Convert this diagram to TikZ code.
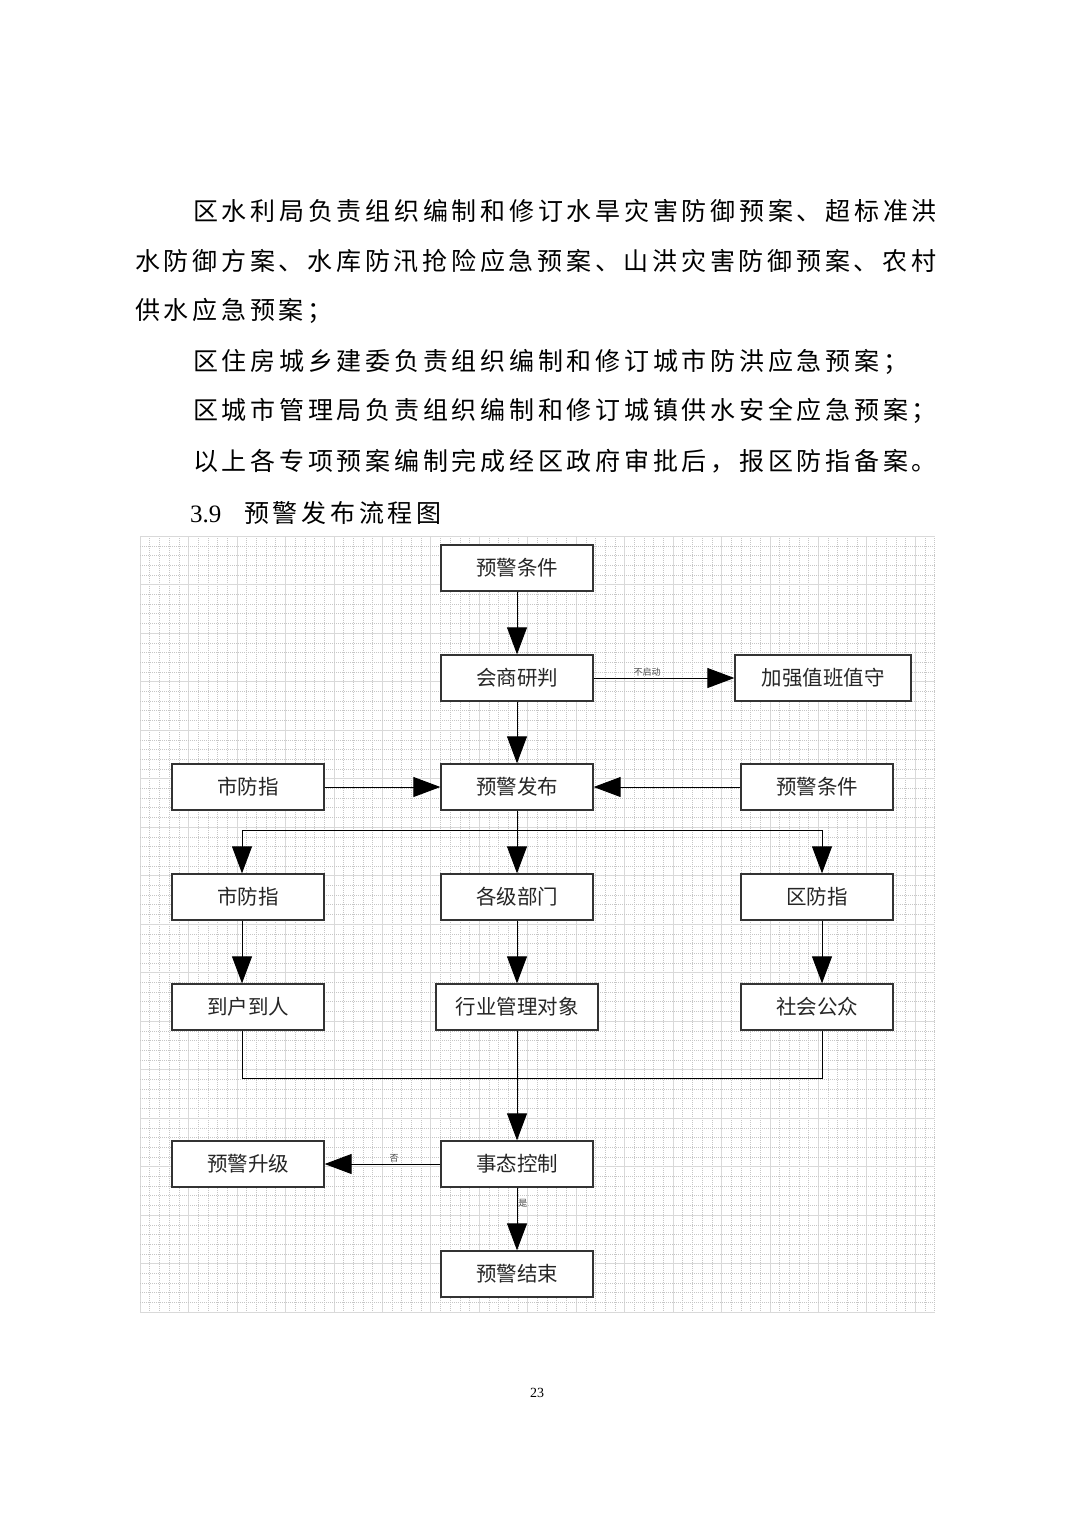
\documentclass[tikz,border=0pt]{standalone}
\usepackage{fontspec}
\setmainfont{Liberation Serif}
\newfontfamily\cjk{Noto Sans CJK SC}
\newfontfamily\cjkbody[LetterSpace=15]{Noto Sans CJK SC}
\usetikzlibrary{arrows.meta}
\tikzset{
  box/.style={draw=black!80, line width=1.3pt, minimum width=152pt, minimum height=46pt,
    inner sep=0pt, font=\cjk\fontsize{20.5}{20.5}\selectfont, text=black!85},
  arr/.style={line width=0.9pt, -{Triangle[length=27pt,width=20pt]}},
  ln/.style={line width=0.9pt},
  bodyline/.style={anchor=west, inner sep=0pt, font=\cjkbody\fontsize{25}{25}\selectfont},
  elabel/.style={inner sep=1pt, font=\cjk\fontsize{9}{9}\selectfont, text=black!70},
  gminor/.style={gray!45, line width=0.4pt, dash pattern=on 1pt off 1pt},
  gmajor/.style={gray!30, line width=0.6pt}
}
\begin{document}
\begin{tikzpicture}[x=1pt,y=-1pt]
\useasboundingbox[fill=white] (0,0) rectangle (1074,1520);
% body text
\node[bodyline] (t1) at (193,211) {区水利局负责组织编制和修订水旱灾害防御预案、超标准洪};
\node[bodyline] (t2) at (135,261) {水防御方案、水库防汛抢险应急预案、山洪灾害防御预案、农村};
\node[bodyline] (t3) at (135,311) {供水应急预案；};
\node[bodyline] (t4) at (193,362) {区住房城乡建委负责组织编制和修订城市防洪应急预案；};
\node[bodyline] (t5) at (193,411) {区城市管理局负责组织编制和修订城镇供水安全应急预案；};
\node[bodyline] (t6) at (193,461) {以上各专项预案编制完成经区政府审批后，报区防指备案。};
\node[anchor=west, inner sep=0pt, font=\fontsize{25}{25}\selectfont] (h0) at (190,514) {3.9};
\node[bodyline] (h1) at (244,513) {预警发布流程图};
\node[inner sep=0pt, font=\fontsize{14}{14}\selectfont] (pg) at (537,1393) {23};
% grid
\foreach \i in {0,...,82}{
  \pgfmathsetmacro{\xx}{140+\i*9.69}
  \pgfmathtruncatemacro{\mm}{mod(\i,5)}
  \ifnum\mm=0 \draw[gmajor] (\xx,536) -- (\xx,1312); \else \draw[gminor] (\xx,536) -- (\xx,1312); \fi
}
\foreach \j in {0,...,80}{
  \pgfmathsetmacro{\yy}{536+\j*9.7}
  \pgfmathtruncatemacro{\mm}{mod(\j,5)}
  \ifnum\mm=0 \draw[gmajor] (140,\yy) -- (935,\yy); \else \draw[gminor] (140,\yy) -- (935,\yy); \fi
}
% boxes
\node[box, fill=white] (yjtj) at (517,568) {预警条件};
\node[box, fill=white] (hsyp) at (517,678) {会商研判};
\node[box, fill=white, minimum width=176pt] (jqzb) at (823,678) {加强值班值守};
\node[box, fill=white] (sfzA) at (248,787) {市防指};
\node[box, fill=white] (yjfb) at (517,787) {预警发布};
\node[box, fill=white] (yjtj2) at (817,787) {预警条件};
\node[box, fill=white] (sfzB) at (248,897) {市防指};
\node[box, fill=white] (gjbm) at (517,897) {各级部门};
\node[box, fill=white] (qfz) at (817,897) {区防指};
\node[box, fill=white] (dhdr) at (248,1007) {到户到人};
\node[box, fill=white, minimum width=162pt] (hygl) at (517,1007) {行业管理对象};
\node[box, fill=white] (shgz) at (817,1007) {社会公众};
\node[box, fill=white] (stkz) at (517,1164) {事态控制};
\node[box, fill=white] (yjsj) at (248,1164) {预警升级};
\node[box, fill=white] (yjjs) at (517,1274) {预警结束};
% bus coordinates
\coordinate (busC) at (517,830);
\coordinate (busL) at (242,830);
\coordinate (busR) at (822,830);
\coordinate (bus2L) at (242,1078);
\coordinate (bus2R) at (822,1078);
% connectors
\draw[arr] (yjtj) -- (hsyp);
\draw[arr] (hsyp) -- node[elabel, above, pos=0.38] {不启动} (jqzb);
\draw[arr] (hsyp) -- (yjfb);
\draw[arr] (sfzA) -- (yjfb);
\draw[arr] (yjtj2) -- (yjfb);
\draw[ln] (yjfb) -- (busC);
\draw[ln] (busL) -- (busR);
\draw[arr] (busL) -- (busL |- sfzB.north);
\draw[arr] (busC) -- (gjbm);
\draw[arr] (busR) -- (busR |- qfz.north);
\draw[arr] (sfzB.south -| busL) -- (dhdr.north -| busL);
\draw[arr] (gjbm) -- (hygl);
\draw[arr] (qfz.south -| busR) -- (shgz.north -| busR);
\draw[ln] (dhdr.south -| bus2L) -- (bus2L) -- (bus2R) -- (shgz.south -| bus2R);
\draw[arr] (hygl) -- (stkz);
\draw[arr] (stkz) -- node[elabel, above, pos=0.4] {否} (yjsj);
\draw[arr] (stkz) -- node[elabel, right, pos=0.25] {是} (yjjs);
\end{tikzpicture}
\end{document}
